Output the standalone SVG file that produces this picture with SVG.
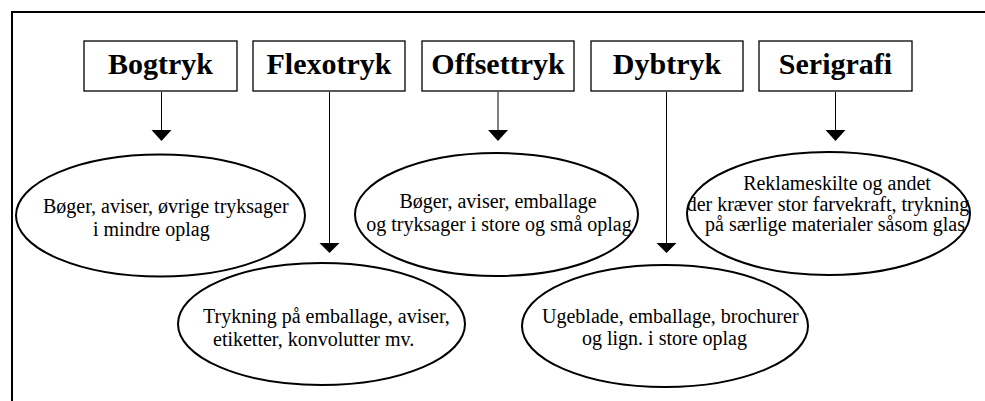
<svg xmlns="http://www.w3.org/2000/svg" width="985" height="401" viewBox="0 0 985 401">
  <style>
    .frame { fill: none; stroke: #000; stroke-width: 2; }
    .box { fill: #fff; stroke: #000; stroke-width: 1.3; }
    .title { font-weight: bold; font-size: 30px; fill: #000; text-anchor: middle; }
    .oval { fill: #fff; stroke: #000; stroke-width: 2; }
    .desc { font-size: 20px; fill: #000; }
    .mid { text-anchor: middle; }
    .conn line { stroke: #000; stroke-width: 1; }
    .conn polygon { fill: #000; }
  </style>
  <rect width="985" height="401" fill="#fff"/>

  <!-- open frame: top and left edges only -->
  <path class="frame" d="M12,401 V12 H985"/>

  <g font-family="'Liberation Serif', Tinos, 'Times New Roman', 'DejaVu Serif', serif">
  <!-- process boxes -->
  <g id="bogtryk">
    <rect class="box" x="84" y="41" width="153" height="50"/>
    <text class="title" x="160.5" y="74">Bogtryk</text>
  </g>
  <g id="flexotryk">
    <rect class="box" x="253" y="41" width="152" height="50"/>
    <text class="title" x="329" y="74">Flexotryk</text>
  </g>
  <g id="offsettryk">
    <rect class="box" x="422" y="41" width="152" height="50"/>
    <text class="title" x="498" y="74">Offsettryk</text>
  </g>
  <g id="dybtryk">
    <rect class="box" x="591" y="41" width="152" height="50"/>
    <text class="title" x="667" y="74">Dybtryk</text>
  </g>
  <g id="serigrafi">
    <rect class="box" x="759" y="41" width="153" height="50"/>
    <text class="title" x="835.5" y="74">Serigrafi</text>
  </g>

  <!-- arrows from each process to its uses -->
  <g id="connectors" class="conn">
    <line x1="161.5" y1="92" x2="161.5" y2="131"/>
    <polygon points="151.5,130 171.5,130 161.5,141"/>
    <line x1="329.5" y1="92" x2="329.5" y2="244"/>
    <polygon points="319.5,243 339.5,243 329.5,253"/>
    <line x1="498" y1="92" x2="498" y2="131"/>
    <polygon points="488,130 508,130 498,141"/>
    <line x1="666.5" y1="92" x2="666.5" y2="244"/>
    <polygon points="656.5,243 676.5,243 666.5,253"/>
    <line x1="835.5" y1="92" x2="835.5" y2="131"/>
    <polygon points="825.5,130 845.5,130 835.5,141"/>
  </g>

  <!-- uses -->
  <g id="brug-bogtryk">
    <ellipse class="oval" cx="160.5" cy="215.5" rx="144.5" ry="61"/>
    <text class="desc" x="43" y="213">Bøger, aviser, øvrige tryksager</text>
    <text class="desc" x="93" y="236">i mindre oplag</text>
  </g>
  <g id="brug-offsettryk">
    <ellipse class="oval" cx="496.5" cy="214.5" rx="141.5" ry="61.5"/>
    <text class="desc mid" x="498" y="208">Bøger, aviser, emballage</text>
    <text class="desc mid" x="499" y="231">og tryksager i store og små oplag</text>
  </g>
  <g id="brug-serigrafi">
    <ellipse class="oval" cx="828.5" cy="213.5" rx="141.5" ry="61.5"/>
    <text class="desc mid" x="837" y="190">Reklameskilte og andet</text>
    <text class="desc mid" x="828" y="211">der kræver stor farvekraft, trykning</text>
    <text class="desc mid" x="835" y="231">på særlige materialer såsom glas</text>
  </g>
  <g id="brug-flexotryk">
    <ellipse class="oval" cx="321.5" cy="324" rx="143.5" ry="61"/>
    <text class="desc" x="203" y="323">Trykning på emballage, aviser,</text>
    <text class="desc" x="213" y="346">etiketter, konvolutter mv.</text>
  </g>
  <g id="brug-dybtryk">
    <ellipse class="oval" cx="665" cy="326" rx="143" ry="61"/>
    <text class="desc" x="542" y="323">Ugeblade, emballage, brochurer</text>
    <text class="desc" x="582" y="345">og lign. i store oplag</text>
  </g>
  </g>
</svg>
